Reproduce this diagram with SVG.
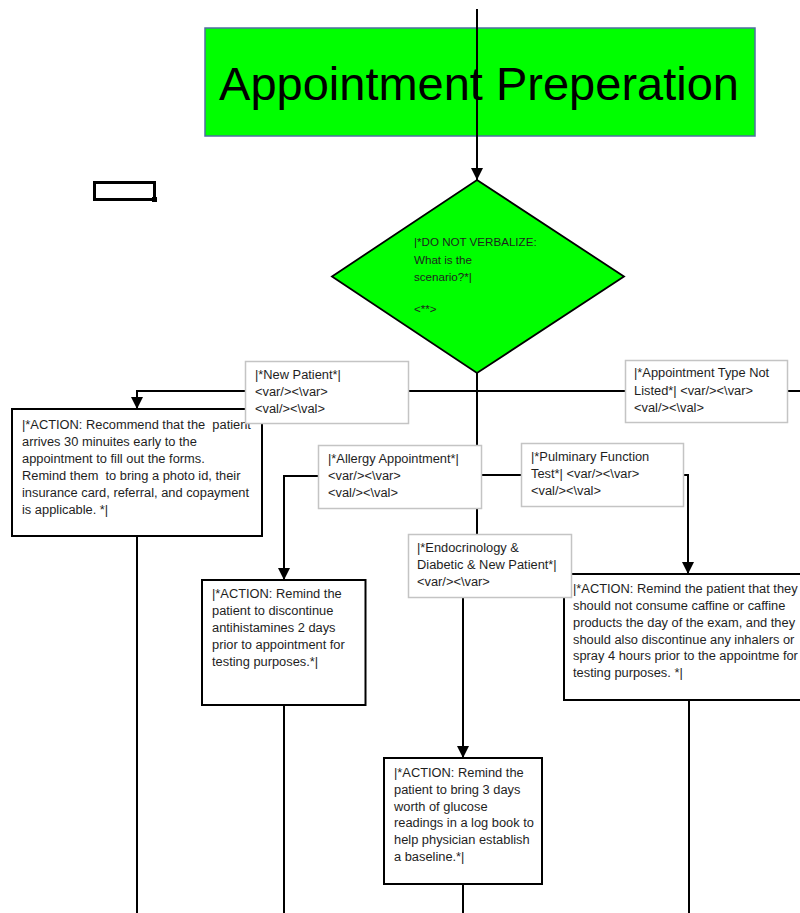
<svg xmlns="http://www.w3.org/2000/svg" width="800" height="913" viewBox="0 0 800 913">
<defs>
<style>
.t{font-family:"Liberation Sans",Arial,sans-serif;font-size:12.85px;fill:#1e1e1e;white-space:pre}
.d{font-family:"Liberation Sans",Arial,sans-serif;font-size:11.6px;fill:#1e1e1e;white-space:pre}
.title{font-family:"Liberation Sans",Arial,sans-serif;font-size:47px;fill:#000}
.act{fill:#fff;stroke:#000;stroke-width:2}
.lbl{fill:#fff;stroke:#c4c4c4;stroke-width:1.5}
.c{fill:none;stroke:#000;stroke-width:2}
.ca{fill:none;stroke:#000;stroke-width:2;marker-end:url(#ah)}
</style>
<marker id="ah" markerUnits="userSpaceOnUse" markerWidth="12" markerHeight="14" refX="12" refY="6" orient="auto" viewBox="0 0 12 12">
<path d="M0,0 L12,6 L0,12 Z" fill="#000"/>
</marker>
</defs>
<rect width="800" height="913" fill="#fff"/>

<g id="title">
<rect x="205" y="28" width="550" height="108" fill="#00ff00" stroke="#4f6fa0" stroke-width="1.5"/>
<text class="title" x="479" y="100" text-anchor="middle">Appointment Preperation</text>
</g>

<g id="small-box">
<rect x="94.5" y="182.5" width="60" height="17" fill="none" stroke="#000" stroke-width="3"/>
<rect x="152" y="197" width="5" height="5" fill="#000"/>
</g>

<g id="decision">
<polygon points="477,180 624,276.5 477,373 332,276.5" fill="#00ff00" stroke="#000" stroke-width="1.8"/>
<text class="d" x="414" y="246">|*DO NOT VERBALIZE:</text>
<text class="d" x="414" y="263.5">What is the</text>
<text class="d" x="414" y="281">scenario?*|</text>
<text class="d" x="414" y="312.5">&lt;**&gt;</text>
</g>

<g id="connectors">
<line class="ca" x1="477" y1="9" x2="477" y2="180"/>
<line class="c" x1="477" y1="373" x2="477" y2="535"/>
<line class="c" x1="136" y1="391" x2="800" y2="391"/>
<line class="ca" x1="137" y1="390" x2="137" y2="409"/>
<polyline class="ca" points="284,476 284,476 284,580" />
<line class="c" x1="283" y1="476" x2="477" y2="476"/>
<polyline class="ca" points="477,475 688,475 688,574"/>
<line class="ca" x1="463" y1="598" x2="463" y2="758"/>
<line class="c" x1="137" y1="536" x2="137" y2="913"/>
<line class="c" x1="284" y1="705" x2="284" y2="913"/>
<line class="c" x1="689" y1="700" x2="689" y2="913"/>
<line class="c" x1="463" y1="884" x2="463" y2="913"/>
</g>

<g id="action-new-patient">
<rect class="act" x="12" y="409" width="250" height="127"/>
<text class="t" x="22" y="428.5">|*ACTION: Recommend that the  patient</text>
<text class="t" x="22" y="445.5">arrives 30 minuites early to the</text>
<text class="t" x="22" y="462.5">appointment to fill out the forms.</text>
<text class="t" x="22" y="479.5">Remind them  to bring a photo id, their</text>
<text class="t" x="22" y="496.5">insurance card, referral, and copayment</text>
<text class="t" x="22" y="513.5">is applicable. *|</text>
</g>

<g id="label-new-patient">
<rect class="lbl" x="245.5" y="361.5" width="163" height="62"/>
<text class="t" x="255" y="378.5">|*New Patient*|</text>
<text class="t" x="255" y="395.5">&lt;var/&gt;&lt;\var&gt;</text>
<text class="t" x="255" y="412.5">&lt;val/&gt;&lt;\val&gt;</text>
</g>

<g id="label-not-listed">
<rect class="lbl" x="625.5" y="360.5" width="162" height="62"/>
<text class="t" x="634" y="377">|*Appointment Type Not</text>
<text class="t" x="634" y="394.5">Listed*| &lt;var/&gt;&lt;\var&gt;</text>
<text class="t" x="634" y="411.5">&lt;val/&gt;&lt;\val&gt;</text>
</g>

<g id="label-allergy">
<rect class="lbl" x="318.5" y="445.5" width="163" height="63"/>
<text class="t" x="328" y="463">|*Allergy Appointment*|</text>
<text class="t" x="328" y="479.5">&lt;var/&gt;&lt;\var&gt;</text>
<text class="t" x="328" y="496.5">&lt;val/&gt;&lt;\val&gt;</text>
</g>

<g id="label-pulminary">
<rect class="lbl" x="521.5" y="443.5" width="162" height="63"/>
<text class="t" x="531" y="460.5">|*Pulminary Function</text>
<text class="t" x="531" y="478">Test*| &lt;var/&gt;&lt;\var&gt;</text>
<text class="t" x="531" y="494.5">&lt;val/&gt;&lt;\val&gt;</text>
</g>

<g id="action-allergy">
<rect class="act" x="202" y="580" width="163.5" height="125"/>
<text class="t" x="212" y="598">|*ACTION: Remind the</text>
<text class="t" x="212" y="615">patient to discontinue</text>
<text class="t" x="212" y="632">antihistamines 2 days</text>
<text class="t" x="212" y="649">prior to appointment for</text>
<text class="t" x="212" y="666">testing purposes.*|</text>
</g>

<g id="action-pulminary">
<rect class="act" x="564" y="574" width="250" height="126"/>
<text class="t" x="573" y="593">|*ACTION: Remind the patient that they</text>
<text class="t" x="573" y="609.5">should not consume caffine or caffine</text>
<text class="t" x="573" y="626.5">products the day of the exam, and they</text>
<text class="t" x="573" y="643.5">should also discontinue any inhalers or</text>
<text class="t" x="573" y="660">spray 4 hours prior to the appointme for</text>
<text class="t" x="573" y="677">testing purposes. *|</text>
</g>

<g id="label-endocrinology">
<rect class="lbl" x="408.5" y="534.5" width="163" height="63"/>
<text class="t" x="417" y="552">|*Endocrinology &amp;</text>
<text class="t" x="417" y="569">Diabetic &amp; New Patient*|</text>
<text class="t" x="417" y="585.5">&lt;var/&gt;&lt;\var&gt;</text>
</g>

<g id="action-endocrinology">
<rect class="act" x="384" y="758" width="158" height="126"/>
<text class="t" x="394" y="777">|*ACTION: Remind the</text>
<text class="t" x="394" y="793.5">patient to bring 3 days</text>
<text class="t" x="394" y="810.5">worth of glucose</text>
<text class="t" x="394" y="826.5">readings in a log book to</text>
<text class="t" x="394" y="843.5">help physician establish</text>
<text class="t" x="394" y="861">a baseline.*|</text>
</g>
</svg>
